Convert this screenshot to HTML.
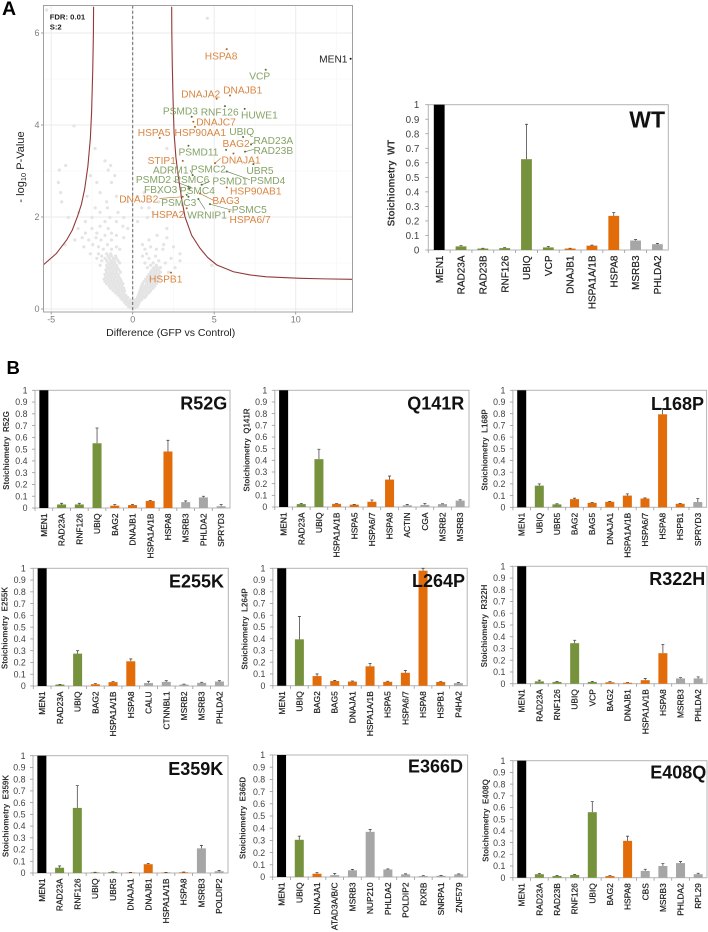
<!DOCTYPE html>
<html lang="en">
<head>
<meta charset="utf-8">
<title>MEN1 interactome volcano plot and stoichiometry charts</title>
<style>
html,body{margin:0;padding:0;background:#fff;}
body{width:708px;height:932px;overflow:hidden;}
svg{display:block;font-family:"Liberation Sans",Arial,sans-serif;filter:blur(0.3px);}
</style>
</head>
<body>
<svg id="fig" width="708" height="932" viewBox="0 0 708 932" xmlns="http://www.w3.org/2000/svg">
<defs><clipPath id="volcano-clip"><rect x="43.5" y="5.5" width="309" height="306.5"/></clipPath></defs>
</svg>
<script>
/* ---------- Volcano data ---------- */
const volcanoXTicks = [-5, 0, 5, 10];
const volcanoYTicks = [0, 2, 4, 6];
const hitProteins = ['HSPA8','VCP','MEN1','DNAJB1','DNAJA2','RNF126','HUWE1','PSMD3','DNAJC7','HSP90AA1','HSPA5','UBIQ','RAD23A','BAG2','RAD23B','PSMD11','DNAJA1','UBR5','STIP1','ADRM1','PSMC2','PSMD4','PSMD2','PSMC6','PSMD1','FBXO3','PSMC4','HSP90AB1','BAG3','DNAJB2','PSMC3','PSMC5','WRNIP1','HSPA2','HSPA6/7','HSPB1'];
const hitDifference = [5.77,8.16,13.37,5.97,5.15,5.66,6.87,3.62,3.72,3.82,1.66,6.77,7.26,6.18,6.89,3.42,5.05,7.40,3.07,3.68,5.73,5.77,3.42,3.48,4.23,3.31,3.52,5.77,4.13,3.07,3.42,4.74,4.03,3.31,5.93,2.35];
const hitLogP = [5.65,5.20,5.44,4.64,4.57,4.41,4.35,4.18,4.07,3.96,3.72,3.74,3.58,3.38,3.42,3.55,3.17,3.15,3.22,2.91,3.46,2.99,2.66,2.62,2.70,2.48,2.64,2.64,2.51,2.44,2.44,2.28,2.39,2.19,2.12,0.79];
const hitGroups = ['o','g','k','o','o','g','g','g','o','o','o','g','g','o','g','g','o','g','o','g','g','g','g','g','g','g','g','o','o','o','g','g','g','o','o','o'];
const rightCurveDiff = [2.39,2.40,2.43,2.48,2.54,2.65,2.80,3.0,3.21,3.62,4.13,4.6,5.15,6.18,7.2,8.2,10.3,11.8,13.5];
const rightCurveLogP = [6.57,6.0,5.27,4.5,3.82,3.3,2.88,2.4,2.0,1.6,1.32,1.12,0.96,0.81,0.74,0.70,0.667,0.655,0.645];
const leftCurveDiff = [-2.4,-2.41,-2.45,-2.52,-2.6,-2.75,-2.95,-3.15,-3.4,-3.7,-4.05,-4.7,-5.48];
const leftCurveLogP = [6.57,6.0,5.2,4.3,3.7,3.1,2.6,2.27,2.0,1.72,1.5,1.2,0.96];
/* background proteins, each row: logP then differences */
const backgroundRows = [
[0.02,-0.1,0,0.1],[0.05,-0.25,-0.12,0.02,0.15,0.28],[0.1,-0.4,-0.25,-0.1,0.05,0.2,0.35],
[0.15,-0.5,-0.35,-0.2,-0.05,0.1,0.25,0.4],[0.2,-0.65,-0.5,-0.35,-0.15,0.15,0.25,0.4,0.55],
[0.25,-0.75,-0.6,-0.45,-0.3,0.3,0.45,0.6,0.75],[0.3,-0.9,-0.75,-0.6,-0.42,0.35,0.5,0.65,0.85],
[0.35,-1.05,-0.9,-0.75,-0.55,0.4,0.55,0.7,0.9,1.0],[0.4,-1.2,-1.0,-0.85,-0.65,-0.5,0.45,0.6,0.8,1.0,1.1],
[0.45,-1.35,-1.15,-0.95,-0.75,-0.55,0.5,0.7,0.85,1.05,1.25],[0.5,-1.45,-1.25,-1.05,-0.85,-0.65,0.55,0.75,0.95,1.15,1.35],
[0.55,-1.6,-1.4,-1.2,-1.0,-0.8,-0.6,0.6,0.85,1.05,1.25,1.45],[0.6,-1.7,-1.5,-1.3,-1.1,-0.9,-0.7,0.7,0.9,1.1,1.3,1.5],
[0.65,-1.75,-1.55,-1.35,-1.15,-0.95,-0.75,0.8,1.0,1.2,1.4,1.6],[0.7,-1.65,-1.45,-1.25,-1.05,-0.85,0.9,1.1,1.3,1.5,1.65],
[0.75,-1.7,-1.5,-1.3,-1.1,-0.9,1.0,1.2,1.4,1.6],[0.8,-1.6,-1.4,-1.2,-1.0,-0.75,1.1,1.3,1.5,1.7,2.2],
[0.85,-1.65,-1.45,-1.25,-1.05,-0.85,1.2,1.4,1.6],[0.9,-1.55,-1.35,-1.15,-0.95,0.9,1.3,1.5,1.7,2.6],
[0.95,-2.0,-1.6,-1.4,-1.2,-1.0,1.1,1.45,4.85],[1.0,-1.5,-1.3,-1.1,-0.8,0.75,1.25,2.0],
[1.05,-1.9,-1.6,-1.35,-1.15,-0.9,1.6,2.9],[1.1,-2.2,-1.7,-1.45,-1.2,-1.0,1.0,2.35],
[1.15,-1.9,-1.5,-1.3,-1.05,0.6,1.4],[1.2,-2.6,-2.1,-1.6,-1.35,0.85,2.9],
[1.3,-1.8,-1.3,-0.8,0.75,1.45,1.85],[1.35,-3.0,-2.1,-1.0,1.1,2.5],
[1.4,-4.15,-2.45,-1.55,0.6,1.9],[1.5,-3.55,-2.7,-1.95,-1.3,1.0],
[1.55,-3.1,-2.25,-0.55,2.1],[1.6,-1.7,-1.0,1.5],[1.65,-2.9,-1.3,-2.2],
[1.75,-3.35,-2.5,-1.5,-0.3,2.1],[1.8,-2.0,-0.6],[1.9,-2.9,-1.7,-1.0,0.3],
[1.99,-3.95,-2.5,-1.4,-0.55,0.9],[2.1,-3.3,-2.0,-0.9,1.25],[2.2,-2.3,-1.55,1.0,0.55],
[2.33,-4.36,-1.6,-0.3,1.6],[2.45,-2.8,-1.0,0.3],[2.53,-4.42,-2.0,1.6,0.7],
[2.75,-4.56,-2.2,-1.3],[2.9,-2.6,-1.1],[3.02,-4.5,-1.5],[3.12,-4.11,-1.35],
[3.22,-1.7],[3.49,-2.31,2.1],[3.98,-3.6],[6.32,4.58],[6.5,-5.28]
];

/* ---------- Stoichiometry data ---------- */
const greenProteins = ['RAD23A','RAD23B','RNF126','UBIQ','VCP','UBR5'];
const orangeProteins = ['DNAJB1','DNAJA1','HSPA1A/1B','HSPA8','BAG2','BAG5','HSPA5','HSPA6/7','HSPB1'];
const stoichTicks = [0,0.1,0.2,0.3,0.4,0.5,0.6,0.7,0.8,0.9,1];

const wtCategories = ['MEN1','RAD23A','RAD23B','RNF126','UBIQ','VCP','DNAJB1','HSPA1A/1B','HSPA8','MSRB3','PHLDA2'];
const wtValues = [1,0.025,0.01,0.013,0.625,0.018,0.01,0.03,0.235,0.065,0.04];
const wtErrors = [0,0.005,0.002,0.003,0.24,0.007,0.002,0.003,0.023,0.007,0.005];

const r52gCategories = ['MEN1','RAD23A','RNF126','UBIQ','BAG2','DNAJB1','HSPA1A/1B','HSPA8','MSRB3','PHLDA2','SPRYD3'];
const r52gValues = [1,0.03,0.03,0.55,0.02,0.025,0.06,0.48,0.05,0.09,0.015];
const r52gErrors = [0,0.01,0.01,0.13,0.01,0.005,0.005,0.095,0.01,0.01,0.015];

const q141rCategories = ['MEN1','RAD23A','UBIQ','HSPA1A/1B','HSPA5','HSPA6/7','HSPA8','ACTIN','CGA','MSRB2','MSRB3'];
const q141rValues = [1,0.025,0.41,0.027,0.02,0.045,0.235,0.015,0.018,0.025,0.055];
const q141rErrors = [0,0.005,0.085,0.003,0.002,0.015,0.03,0.007,0.012,0.003,0.007];

const l168pCategories = ['MEN1','UBIQ','UBR5','BAG2','BAG5','DNAJA1','HSPA1A/1B','HSPA6/7','HSPA8','HSPB1','SPRYD3'];
const l168pValues = [1,0.185,0.025,0.07,0.038,0.047,0.10,0.075,0.795,0.03,0.045];
const l168pErrors = [0,0.015,0.005,0.008,0.004,0.003,0.015,0.005,0.05,0.002,0.03];

const e255kCategories = ['MEN1','RAD23A','UBIQ','BAG2','HSPA1A/1B','HSPA8','CALU','CTNNBL1','MSRB2','MSRB3','PHLDA2'];
const e255kValues = [1,0.012,0.275,0.015,0.033,0.21,0.025,0.035,0.012,0.027,0.038];
const e255kErrors = [0,0.002,0.025,0.005,0.004,0.02,0.015,0.01,0.004,0.005,0.007];

const l264pCategories = ['MEN1','UBIQ','BAG2','BAG5','DNAJA1','HSPA1A/1B','HSPA5','HSPA6/7','HSPA8','HSPB1','P4HA2'];
const l264pValues = [1,0.395,0.082,0.04,0.035,0.165,0.033,0.11,0.98,0.032,0.022];
const l264pErrors = [0,0.195,0.018,0.005,0.005,0.025,0.005,0.02,0.02,0.003,0.006];

const r322hCategories = ['MEN1','RAD23A','RNF126','UBIQ','VCP','BAG2','DNAJB1','HSPA1A/1B','HSPA8','MSRB3','PHLDA2'];
const r322hValues = [1,0.02,0.015,0.345,0.015,0.012,0.008,0.03,0.26,0.045,0.045];
const r322hErrors = [0,0.01,0.003,0.025,0.005,0.005,0.002,0.015,0.075,0.007,0.013];

const e359kCategories = ['MEN1','RAD23A','RNF126','UBIQ','UBR5','DNAJA1','DNAJB1','HSPA1A/1B','HSPA8','MSRB3','POLDIP2'];
const e359kValues = [1,0.045,0.555,0.005,0.008,0.004,0.075,0.004,0.006,0.21,0.015];
const e359kErrors = [0,0.015,0.19,0.001,0.002,0.001,0.007,0.001,0.002,0.025,0.007];

const e366dCategories = ['MEN1','UBIQ','DNAJA1','ATAD3A/B/C','MSRB3','NUP210','PHLDA2','POLDIP2','RXRB','SNRPA1','ZNF579'];
const e366dValues = [1,0.305,0.027,0.015,0.055,0.37,0.062,0.022,0.008,0.01,0.022];
const e366dErrors = [0,0.03,0.009,0.013,0.007,0.02,0.004,0.004,0.003,0.003,0.003];

const e408qCategories = ['MEN1','RAD23A','RAD23B','RNF126','UBIQ','BAG2','HSPA8','CBS','MSRB3','PHLDA2','RPL29'];
const e408qValues = [1,0.03,0.015,0.023,0.56,0.014,0.315,0.058,0.1,0.125,0.03];
const e408qErrors = [0,0.007,0.005,0.005,0.09,0.004,0.04,0.014,0.02,0.013,0.008];

/* ---------- Layout (not data) ---------- */
const hitLabelOffsets = {'HSPA8':[-5.7,6.7],'VCP':[-6,6],'MEN1':[-17.3,0],'DNAJB1':[12.7,-5.7],'DNAJA2':[-16,-5],'RNF126':[-5.3,5.7],'HUWE1':[14.7,6],'PSMD3':[-11.3,-5.7],'DNAJC7':[22.7,0],'HSP90AA1':[5.3,5.7],'HSPA5':[-5.7,-5.7],'UBIQ':[-1.3,-5.7],'RAD23A':[22.3,-3.7],'BAG2':[2.7,-10],'RAD23B':[28.3,-1.3],'PSMD11':[10,6],'DNAJA1':[26,-3.3],'UBR5':[6.7,6.3],'STIP1':[-21,-0.7],'ADRM1':[-22,-5.3],'PSMC2':[-17.7,19],'PSMD4':[41,8.7],'PSMD2':[-35,-7.3],'PSMC6':[2.3,-9],'PSMD1':[28.3,-3.7],'FBXO3':[-26,-5.7],'PSMC4':[7.3,3],'HSP90AB1':[29,3.3],'BAG3':[26,7],'DNAJB2':[-44,2],'PSMC3':[-9.7,5.7],'PSMC5':[39.3,5.3],'WRNIP1':[8.7,15.7],'HSPA2':[-18.7,6],'HSPA6/7':[20.7,7.7],'HSPB1':[-5.3,6.3]};
const hitLeaderEnds = {'RAD23A':[3,-1.7],'RAD23B':[9,-2.3],'DNAJA1':[5.7,-5],'PSMD4':[23.3,8.3],'PSMD2':[-15,-5.7],'PSMD1':[8.3,-3.3],'DNAJB2':[-23.3,1.7],'PSMC5':[21.7,6],'WRNIP1':[6.7,10.3],'BAG3':[13.3,6.7],'ADRM1':[-2.7,-5]};
const panelLayout = [
 {id:'wt',title:'WT',cats:wtCategories,vals:wtValues,errs:wtErrors,l:428.3,r:668.3,t:104.7,b:250,titleR:665,titleB:127.7,titleSize:23,tickSize:9.8,catSize:10,yTitle:'Stoichiometry  WT',yTitleX:391.7,yTitleY:183,yTitleSize:9.9,barW:10.8,tickGap:9},
 {id:'r52g',title:'R52G',cats:r52gCategories,vals:r52gValues,errs:r52gErrors,l:35,r:230,t:390.3,b:508,titleR:227.3,titleB:409.3,yTitle:'Stoichiometry  R52G',yTitleX:6,yTitleY:450.5},
 {id:'q141r',title:'Q141R',cats:q141rCategories,vals:q141rValues,errs:q141rErrors,l:274.8,r:469,t:390.3,b:507,titleR:464.3,titleB:409.3,yTitle:'Stoichiometry  Q141R',yTitleX:246.7,yTitleY:450},
 {id:'l168p',title:'L168P',cats:l168pCategories,vals:l168pValues,errs:l168pErrors,l:512.9,r:706.6,t:390.3,b:507.3,titleR:704,titleB:410,yTitle:'Stoichiometry  L168P',yTitleX:484.7,yTitleY:450},
 {id:'e255k',title:'E255K',cats:e255kCategories,vals:e255kValues,errs:e255kErrors,l:33.3,r:228.3,t:568.3,b:686,titleR:224,titleB:587.3,yTitle:'Stoichiometry  E255K',yTitleX:4.3,yTitleY:628},
 {id:'l264p',title:'L264P',cats:l264pCategories,vals:l264pValues,errs:l264pErrors,l:272.9,r:467.2,t:568.3,b:685.7,titleR:465,titleB:587,yTitle:'Stoichiometry  L264P',yTitleX:244.3,yTitleY:629},
 {id:'r322h',title:'R322H',cats:r322hCategories,vals:r322hValues,errs:r322hErrors,l:512.9,r:707,t:566.3,b:683.7,titleR:705.3,titleB:585,yTitle:'Stoichiometry  R322H',yTitleX:484,yTitleY:626},
 {id:'e359k',title:'E359K',cats:e359kCategories,vals:e359kValues,errs:e359kErrors,l:33,r:228,t:755.7,b:873,titleR:223.3,titleB:775,yTitle:'Stoichiometry  E359K',yTitleX:5.7,yTitleY:816},
 {id:'e366d',title:'E366D',cats:e366dCategories,vals:e366dValues,errs:e366dErrors,l:272.7,r:467.6,t:755,b:877,titleR:463,titleB:772.3,yTitle:'Stoichiometry  E366D',yTitleX:242.3,yTitleY:818},
 {id:'e408q',title:'E408Q',cats:e408qCategories,vals:e408qValues,errs:e408qErrors,l:512.9,r:707,t:760.7,b:877.7,titleR:706.3,titleB:778.3,yTitle:'Stoichiometry  E408Q',yTitleX:485.3,yTitleY:820.5}
];

/* ---------- Drawing helpers ---------- */
const NS = 'http://www.w3.org/2000/svg';
const fig = document.getElementById('fig');
function make(tag, attrs, parent, content){
  const n = document.createElementNS(NS, tag);
  for (const k in attrs) n.setAttribute(k, attrs[k]);
  if (content !== undefined) n.textContent = content;
  (parent || fig).appendChild(n);
  return n;
}

/* ---------- Panel letters ---------- */
const letterA = make('text',{x:2,y:15,'font-size':19.5,'font-weight':700,fill:'#000'},fig,'A');


const letterB = make('text',{x:6.5,y:374,'font-size':18.5,'font-weight':700,fill:'#000'},fig,'B');



/* ---------- Volcano ---------- */
const vX = d => 132.7 + d * 16.3;
const vY = d => 309 - d * 46;
const volcano = make('g',{});


make('rect',{x:43.5,y:5.5,width:309,height:306.5,fill:'#fff'},volcano);
[-2.5,2.5,7.5,12.5].forEach(v => make('line',{x1:vX(v),x2:vX(v),y1:5.5,y2:312,stroke:'#f5f5f5','stroke-width':0.6},volcano));
[1,3,5].forEach(v => make('line',{x1:43.5,x2:352.5,y1:vY(v),y2:vY(v),stroke:'#f5f5f5','stroke-width':0.6},volcano));
volcanoXTicks.forEach(v => {
  const g = make('line',{x1:vX(v),x2:vX(v),y1:5.5,y2:312,stroke:'#ebebeb','stroke-width':1},volcano);
  
  
  make('line',{x1:vX(v),x2:vX(v),y1:312,y2:314.5,stroke:'#888','stroke-width':0.8},volcano);
  const t = make('text',{x:vX(v),y:322.5,'font-size':9,fill:'#7d7d7d','text-anchor':'middle'},volcano,String(v));
  
  
});
volcanoYTicks.forEach(v => {
  const g = make('line',{x1:43.5,x2:352.5,y1:vY(v),y2:vY(v),stroke:'#ebebeb','stroke-width':1},volcano);
  
  
  make('line',{x1:41,x2:43.5,y1:vY(v),y2:vY(v),stroke:'#888','stroke-width':0.8},volcano);
  const t = make('text',{x:39.5,y:vY(v)+3.2,'font-size':9,fill:'#7d7d7d','text-anchor':'end'},volcano,String(v));
  
  
});
const clipped = make('g',{'clip-path':'url(#volcano-clip)'},volcano);
backgroundRows.forEach(row => {
  for (let i = 1; i < row.length; i++) {
    const c = make('circle',{cx:vX(row[i]),cy:vY(row[0]),r:1.6,fill:'#e4e4e4'},clipped);
    
    
  }
});
const zeroLine = make('line',{x1:vX(0),x2:vX(0),y1:5.5,y2:312,stroke:'#666','stroke-width':1,'stroke-dasharray':'3 2.2'},volcano);


function curvePath(xs, ys){ return xs.map((x,i) => (i?'L':'M') + vX(x).toFixed(2) + ' ' + vY(ys[i]).toFixed(2)).join(' '); }
const rightCurve = make('path',{d:curvePath(rightCurveDiff,rightCurveLogP),fill:'none',stroke:'#93393a','stroke-width':1.1},clipped);


const leftCurve = make('path',{d:curvePath(leftCurveDiff,leftCurveLogP),fill:'none',stroke:'#93393a','stroke-width':1.1},clipped);


const pointColor = {o:'#b5651d',g:'#55703a',k:'#111'};
const labelColor = {o:'#d98642',g:'#86a367',k:'#222'};
const leaderColor = {o:'#b5651d',g:'#5d7a45',k:'#222'};
hitProteins.forEach((name,i) => {
  const px = vX(hitDifference[i]), py = vY(hitLogP[i]), grp = hitGroups[i];
  const lead = hitLeaderEnds[name];
  if (lead) {
    const ln = make('line',{x1:px,y1:py,x2:px+lead[0],y2:py+lead[1],stroke:leaderColor[grp],'stroke-width':0.6},volcano);
    
    
  }
  const pt = make('circle',{cx:px,cy:py,r:1,fill:pointColor[grp]},volcano);
  
  
  const off = hitLabelOffsets[name];
  const lb = make('text',{x:px+off[0],y:py+off[1]+3.6,'font-size':10.2,fill:labelColor[grp],'text-anchor':'middle'},volcano,name);
  
  
});
make('rect',{x:43.5,y:5.5,width:309,height:306.5,fill:'none',stroke:'#a0a0a0','stroke-width':1},volcano);
const fdrNote = make('text',{x:49.7,y:19.5,'font-size':7.7,'font-weight':700,fill:'#222'},volcano,'FDR: 0.01');


const sNote = make('text',{x:49.7,y:29.5,'font-size':7.7,'font-weight':700,fill:'#222'},volcano,'S:2');


const vXTitle = make('text',{x:170.7,y:336,'font-size':10.5,fill:'#222','text-anchor':'middle'},volcano,'Difference (GFP vs Control)');


const vYTitle = make('text',{transform:'translate(24,167) rotate(-90)','font-size':11,fill:'#222','text-anchor':'middle'},volcano);


make('tspan',{},vYTitle,'- log');
make('tspan',{'font-size':7.5,dy:2},vYTitle,'10');
make('tspan',{dy:-2},vYTitle,' P-Value');

/* ---------- Stoichiometry panels ---------- */
function barColor(cat){
  if (cat === 'MEN1') return '#000000';
  if (greenProteins.includes(cat)) return '#76923c';
  if (orangeProteins.includes(cat)) return '#e36c0a';
  return '#a6a6a6';
}
panelLayout.forEach(p => {
  const g = make('g',{});
  
  
  const yPos = v => p.b - Math.min(v,1) * (p.b - p.t);
  const step = (p.r - p.l) / p.cats.length;
  const xPos = i => p.l + step * (i + 0.5);
  const barW = p.barW || 9;
  const tickSize = p.tickSize || 8.8;
  const catSize = p.catSize || 8.4;
  const frame = make('rect',{x:p.l,y:p.t,width:p.r-p.l,height:p.b-p.t,fill:'#fff',stroke:'#b4b4b4','stroke-width':1},g);
  
  
  stoichTicks.forEach(v => {
    make('line',{x1:p.l-3,x2:p.l,y1:yPos(v),y2:yPos(v),stroke:'#999','stroke-width':0.8},g);
    const t = make('text',{x:p.l-(p.tickGap||7.5),y:yPos(v)+tickSize*0.36,'font-size':tickSize,fill:'#404040','text-anchor':'end'},g,String(v));
    
    
  });
  p.cats.forEach((cat,i) => {
    make('line',{x1:p.l+step*i,x2:p.l+step*i,y1:p.b,y2:p.b+3,stroke:'#999','stroke-width':0.8},g);
    const top = yPos(p.vals[i]);
    const bar = make('rect',{x:xPos(i)-barW/2,y:top,width:barW,height:p.b-top,fill:barColor(cat)},g);
    
    
    if (p.errs[i] > 0) {
      const eTop = yPos(p.vals[i] + p.errs[i]);
      const eb = make('path',{d:'M'+xPos(i)+' '+top+'V'+eTop+'M'+(xPos(i)-1.5)+' '+eTop+'H'+(xPos(i)+1.5),fill:'none',stroke:'#4a4a4a','stroke-width':0.8},g);
      
      
    }
    const lx = xPos(i) + catSize*0.36, ly = p.b + 5.5;
    const lab = make('text',{transform:'translate('+lx+','+ly+') rotate(-90)','font-size':catSize,fill:'#1c1c1c','text-anchor':'end',stroke:'#1c1c1c','stroke-width':0.2},g,cat);
    
    
  });
  const yt = make('text',{transform:'translate('+(p.yTitleX+3)+','+p.yTitleY+') rotate(-90)','font-size':p.yTitleSize||8,'font-weight':700,fill:'#333','text-anchor':'middle','xml:space':'preserve',style:'white-space:pre'},g,p.yTitle);
  
  
  const title = make('text',{x:p.titleR,y:p.titleB,'font-size':p.titleSize||18,'font-weight':700,fill:'#111','text-anchor':'end'},g,p.title);
  
  
});
</script>
</body>
</html>
